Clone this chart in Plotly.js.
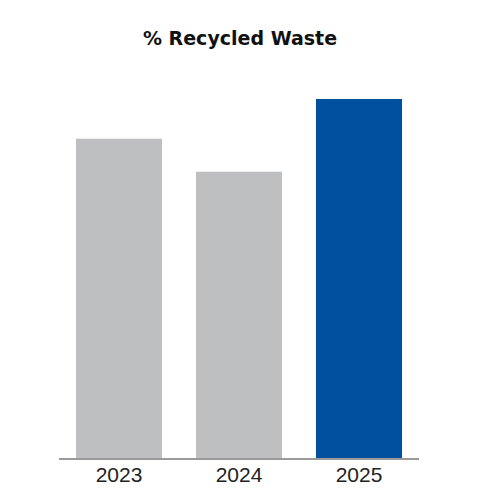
<!DOCTYPE html>
<html>
<head>
<meta charset="utf-8">
<script src="https://cdn.plot.ly/plotly-3.0.1.min.js"></script>
<style>html,body{margin:0;padding:0;background:#fff;}#chart{width:480px;height:500px;}</style>
</head>
<body>
<div id="chart"></div>
<script>
const years = ["2023", "2024", "2025"];
const recycledPct = [64.0, 57.4, 72.0];
const barColors = ["#bebfc1", "#bebfc1", "#00509f"];

Plotly.newPlot("chart", [{
  type: "bar",
  x: years,
  y: recycledPct,
  marker: {color: barColors, line: {width: 0}},
  hoverinfo: "none"
}], {
  width: 480,
  height: 500,
  margin: {l: 59, r: 61, t: 80, b: 42},
  paper_bgcolor: "#fff",
  plot_bgcolor: "#fff",
  bargap: 0.283,
  showlegend: false,
  title: {
    text: "<b>% Recycled Waste</b>",
    font: {family: "'DejaVu Sans', sans-serif", size: 19, color: "#111"},
    x: 0.5, xref: "container", xanchor: "center",
    y: 0.924, yref: "container", yanchor: "middle"
  },
  xaxis: {
    type: "category",
    showline: true, linecolor: "#9a9a9a", linewidth: 2,
    ticks: "", showgrid: false, zeroline: false,
    ticklabelstandoff: -3,
    tickfont: {family: "'Liberation Sans', Arial, sans-serif", size: 21, color: "#222"},
    fixedrange: true
  },
  yaxis: {
    range: [0, 75.8],
    visible: false, showgrid: false, zeroline: false,
    fixedrange: true
  }
}, {displayModeBar: false, staticPlot: true});
</script>
</body>
</html>
